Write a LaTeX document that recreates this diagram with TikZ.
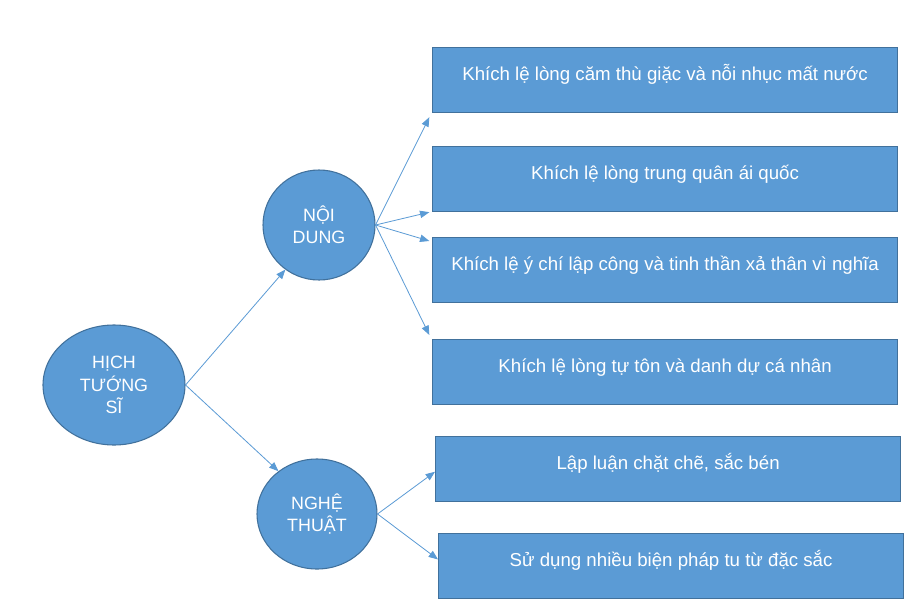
\documentclass[tikz,border=0pt]{standalone}
\usepackage{fontspec}
\setmainfont{Liberation Sans}
\usetikzlibrary{arrows.meta,shapes.geometric}
\definecolor{boxblue}{HTML}{5B9BD5}
\definecolor{edgeblue}{HTML}{41719C}
\tikzset{topic/.style={
    ellipse, draw=edgeblue, fill=boxblue, line width=0.8pt,
    text=white, align=center, inner sep=0pt,
    font=\fontsize{13.4pt}{16.7pt}\selectfont
  },
  point/.style={
    rectangle, draw=edgeblue, fill=boxblue, line width=0.9pt,
    text=white, anchor=north west, inner ysep=0pt,
    minimum width=348.75pt, text height=24.75pt, text depth=24pt,
    font=\fontsize{14pt}{16pt}\selectfont
  },
  link/.style={
    draw=boxblue, line width=0.6pt,
    -{Triangle[length=7pt,width=5.5pt]}
  }
}
\begin{document}
\begin{tikzpicture}[x=0.75pt,y=-0.75pt]
    \fill[white] (0,0) rectangle (920,610);
    \useasboundingbox (0,0) rectangle (920,610);

    % the three circles
    \node[topic, minimum width=106.5pt, minimum height=90pt] (hich) at (114,385) {HỊCH\\TƯỚNG\\SĨ};
    \node[topic, minimum width=84pt, minimum height=82.5pt] (noidung) at (319,225) {NỘI\\DUNG};
    \node[topic, minimum width=90pt, minimum height=82.5pt] (nghethuat) at (317,514) {NGHỆ\\THUẬT};

    % the boxes
    \node[point] (camthu) at (432,47) {Khích lệ lòng căm thù giặc và nỗi nhục mất nước};
    \node[point] (trungquan) at (432,146) {Khích lệ lòng trung quân ái quốc};
    \node[point] (lapcong) at (432,237) {Khích lệ ý chí lập công và tinh thần xả thân vì nghĩa};
    \node[point] (tuton) at (432,339) {Khích lệ lòng tự tôn và danh dự cá nhân};
    \node[point] (lapluan) at (435,436) {Lập luận chặt chẽ, sắc bén};
    \node[point] (bienphap) at (438,533) {Sử dụng nhiều biện pháp tu từ đặc sắc};

    \draw[link] (hich.east) -- (noidung.-127);
    \draw[link] (hich.east) -- (nghethuat.132);
    \draw[link] (noidung.east) -- ([xshift=-2pt,yshift=-3pt]camthu.south west);
    \draw[link] (noidung.east) -- ([xshift=-2pt]trungquan.south west);
    \draw[link] (noidung.east) -- ([xshift=-2pt,yshift=-3pt]lapcong.north west);
    \draw[link] (noidung.east) -- ([xshift=-2pt,yshift=3pt]tuton.north west);
    \draw[link] (nghethuat.east) -- ([yshift=-2pt]lapluan.west);
    \draw[link] (nghethuat.east) -- ([yshift=5pt]bienphap.west);
  \end{tikzpicture}
\end{document}
